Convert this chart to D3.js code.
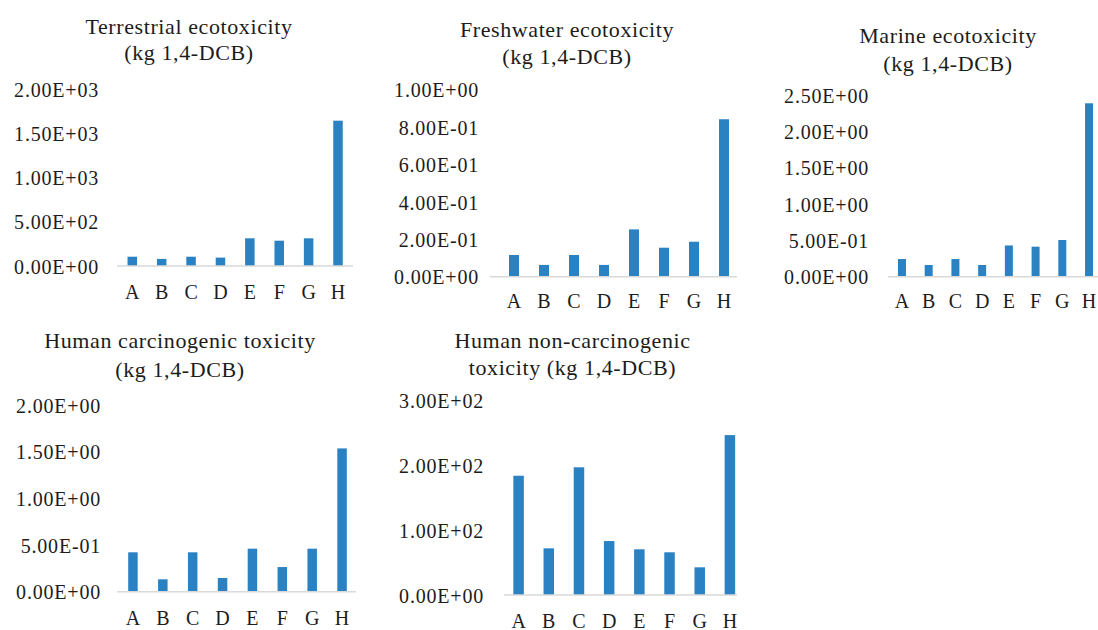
<!DOCTYPE html>
<html>
<head>
<meta charset="utf-8">
<script src="https://cdn.jsdelivr.net/npm/d3@7"></script>
</head>
<body style="margin:0">
<svg id="chart" width="1098" height="630"></svg>
<script>
// ---------- DATA ----------
const categories = ["A", "B", "C", "D", "E", "F", "G", "H"];

const terrestrial  = [105, 80, 105, 95, 313, 286, 313, 1642];
const freshwater   = [0.116, 0.063, 0.116, 0.063, 0.253, 0.155, 0.187, 0.842];
const marine       = [0.243, 0.161, 0.243, 0.161, 0.43, 0.413, 0.505, 2.386];
const carcinogenic = [0.422, 0.133, 0.422, 0.147, 0.461, 0.264, 0.461, 1.535];
const noncarcinogenic = [183.5, 71.8, 196.5, 83, 70.3, 65.7, 42.6, 246];

const terrestrialTicks  = [0, 500, 1000, 1500, 2000];
const freshwaterTicks   = [0, 0.2, 0.4, 0.6, 0.8, 1.0];
const marineTicks       = [0, 0.5, 1.0, 1.5, 2.0, 2.5];
const carcinogenicTicks = [0, 0.5, 1.0, 1.5, 2.0];
const noncarcinogenicTicks = [0, 100, 200, 300];

const terrestrialTitle  = ["Terrestrial ecotoxicity", "(kg 1,4-DCB)"];
const freshwaterTitle   = ["Freshwater ecotoxicity", "(kg 1,4-DCB)"];
const marineTitle       = ["Marine ecotoxicity", "(kg 1,4-DCB)"];
const carcinogenicTitle = ["Human carcinogenic toxicity", "(kg 1,4-DCB)"];
const noncarcinogenicTitle = ["Human non-carcinogenic", "toxicity (kg 1,4-DCB)"];

// ---------- LAYOUT ----------
const FONT = "Liberation Serif";
const INK = "#1c1c1c";
const BAR = "#2a82c3";
const AXIS = "#d9d9d9";

const panels = [
  { title: terrestrialTitle, values: terrestrial, ticks: terrestrialTicks,
    cx: 189, t1: 34, t2: 60, labelRight: 99, bx0: 117.6, bx1: 352.7,
    lx0: 117, lx1: 353, y0: 266, yTop: 89, barW: 9.5, catY: 299 },
  { title: freshwaterTitle, values: freshwater, ticks: freshwaterTicks,
    cx: 567, t1: 37, t2: 64, labelRight: 479, bx0: 499, bx1: 739,
    lx0: 490, lx1: 737, y0: 276.7, yTop: 89.7, barW: 10, catY: 308.5 },
  { title: marineTitle, values: marine, ticks: marineTicks,
    cx: 948, t1: 43, t2: 70.5, labelRight: 869, bx0: 888.6, bx1: 1102.4,
    lx0: 888, lx1: 1098, y0: 276.7, yTop: 95, barW: 8, catY: 308.5 },
  { title: carcinogenicTitle, values: carcinogenic, ticks: carcinogenicTicks,
    cx: 180, t1: 348, t2: 376.5, labelRight: 101, bx0: 118, bx1: 357,
    lx0: 117, lx1: 356, y0: 591.7, yTop: 405, barW: 9.5, catY: 625 },
  { title: noncarcinogenicTitle, values: noncarcinogenic, ticks: noncarcinogenicTicks,
    cx: 572.5, t1: 347.5, t2: 375, labelRight: 484, bx0: 503.5, bx1: 745,
    lx0: 504, lx1: 737, y0: 595, yTop: 400, barW: 10.5, catY: 627.5 }
];

function sci(v) {
  const s = v.toExponential(2);
  const [m, e] = s.split("e");
  const sign = e[0] === "-" ? "-" : "+";
  const digits = e.replace(/^[+-]/, "").padStart(2, "0");
  return m + "E" + sign + digits;
}

const svg = d3.select("#chart");

panels.forEach(p => {
  const g = svg.append("g");
  const yMax = p.ticks[p.ticks.length - 1];

  const x = d3.scaleBand().domain(categories).range([p.bx0, p.bx1]);
  const y = d3.scaleLinear().domain([0, yMax]).range([p.y0, p.yTop]);

  [p.t1, p.t2].forEach((ty, i) => {
    g.append("text")
      .attr("x", p.cx)
      .attr("y", ty)
      .attr("text-anchor", "middle")
      .style("font-family", FONT)
      .style("font-size", "22px")
      .style("letter-spacing", "0.6px")
      .style("fill", INK)
      .text(p.title[i]);
  });

  const ya = g.append("g")
    .attr("transform", `translate(${p.labelRight},0)`)
    .call(d3.axisLeft(y).tickValues(p.ticks).tickFormat(sci).tickSize(0).tickPadding(0));
  ya.select(".domain").remove();
  ya.selectAll("text")
    .attr("x", 0)
    .attr("dy", "0.36em")
    .style("font-family", FONT)
    .style("font-size", "20px")
    .style("letter-spacing", "0.8px")
    .style("fill", INK);

  g.selectAll("rect.bar")
    .data(p.values)
    .join("rect")
    .attr("class", "bar")
    .attr("x", (d, i) => x(categories[i]) + x.bandwidth() / 2 - p.barW / 2)
    .attr("width", p.barW)
    .attr("y", d => y(d))
    .attr("height", d => y(0) - y(d))
    .attr("fill", BAR);

  g.append("line")
    .attr("x1", p.lx0).attr("x2", p.lx1)
    .attr("y1", y(0)).attr("y2", y(0))
    .attr("stroke", AXIS).attr("stroke-width", 1.6);

  const xa = g.append("g")
    .attr("transform", `translate(0,${y(0)})`)
    .call(d3.axisBottom(x).tickSize(0).tickPadding(0));
  xa.select(".domain").remove();
  xa.selectAll("text")
    .attr("y", p.catY - y(0))
    .attr("dy", 0)
    .style("font-family", FONT)
    .style("font-size", "20px")
    .style("fill", INK);
});
</script>
</body>
</html>
